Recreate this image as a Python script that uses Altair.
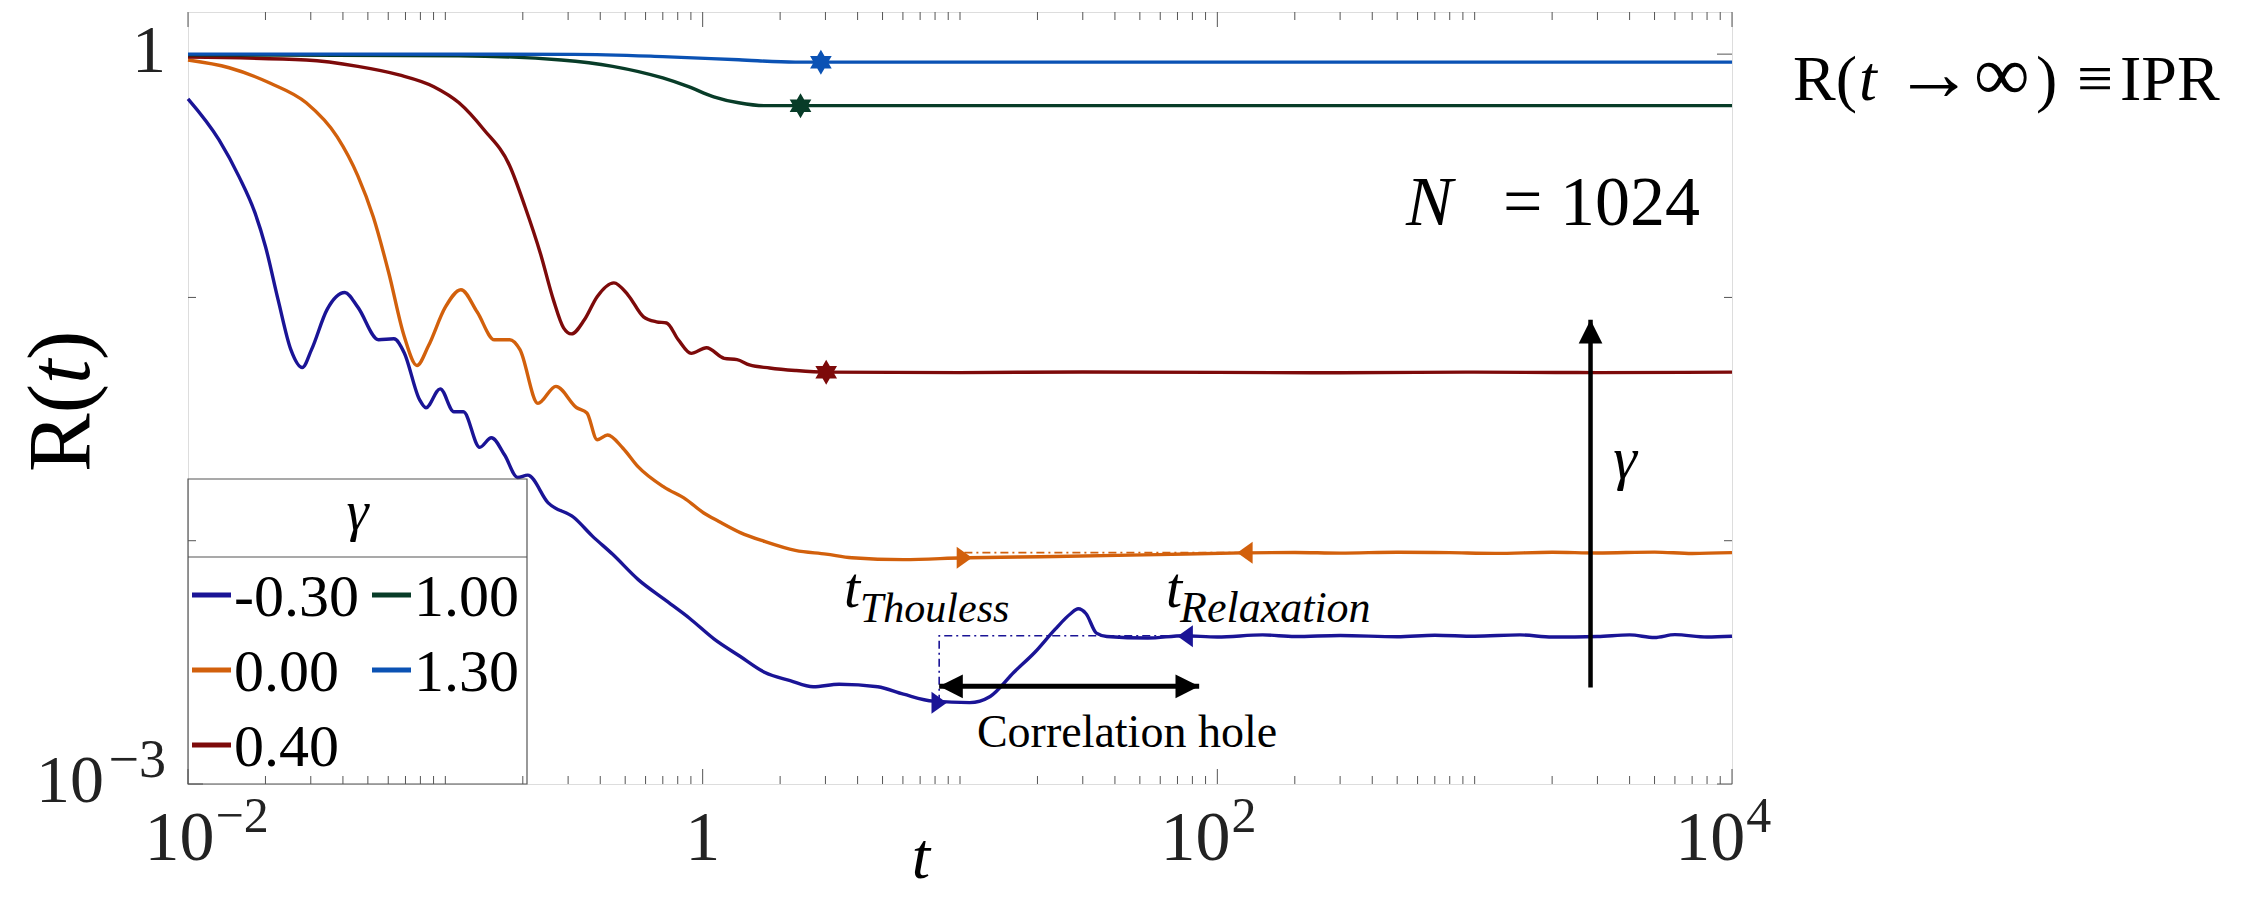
import altair as alt
import pandas as pd

# ---------------- data ----------------
gammas = ["-0.30", "0.00", "0.40", "1.00", "1.30"]
colors = ["#1a1496", "#d2600c", "#7d0a0a", "#083c28", "#0b52b4"]

t_m030 = [0.0100, 0.0132, 0.0158, 0.0182, 0.0200, 0.0224, 0.0251, 0.0278, 0.0302, 0.0347,
          0.0407, 0.0457, 0.0550, 0.0631, 0.0692, 0.0794, 0.0841, 0.0955, 0.108, 0.1175,
          0.136, 0.151, 0.170, 0.191, 0.209, 0.251, 0.316, 0.372, 0.447, 0.562,
          0.708, 0.891, 1.109, 1.396, 1.738, 2.188, 2.69, 3.39, 4.79, 6.03,
          7.89, 10.9, 13.1, 16.2, 19.5, 23.4, 26.9, 28.8, 30.9, 33.9,
          37.2, 53.7, 74.1, 100, 150, 200, 300, 500, 700, 1000,
          1500, 2000, 3000, 4000, 5000, 6000, 8000, 10000]
R_m030 = [0.655, 0.444, 0.313, 0.223, 0.162, 0.0977, 0.0610, 0.0515, 0.0610, 0.0891,
          0.1047, 0.0912, 0.0670, 0.0676, 0.0593, 0.0380, 0.0352, 0.0421, 0.0339, 0.0339,
          0.0242, 0.0265, 0.0225, 0.0182, 0.0186, 0.0143, 0.01245, 0.01047, 0.00879, 0.00692,
          0.00575, 0.00479, 0.00394, 0.00335, 0.00288, 0.00266, 0.00251, 0.00257, 0.00251, 0.00234,
          0.00219, 0.00216, 0.00229, 0.00288, 0.00347, 0.00432, 0.00501, 0.00525, 0.00501, 0.00417,
          0.00404, 0.00398, 0.00407, 0.00402, 0.00410, 0.00404, 0.00408, 0.00403, 0.00409, 0.00405,
          0.00410, 0.00402, 0.00404, 0.00410, 0.00400, 0.00411, 0.00402, 0.00405]

t_000 = [0.01, 0.01445, 0.0209, 0.0288, 0.0380, 0.0457, 0.0525, 0.0603, 0.0692, 0.0776,
         0.0859, 0.1, 0.115, 0.133, 0.155, 0.178, 0.195, 0.229, 0.269, 0.324,
         0.355, 0.389, 0.427, 0.490, 0.562, 0.708, 0.861, 1.01, 1.156, 1.40,
         1.74, 2.29, 3.02, 3.80, 6.03, 10.35, 23.4, 58.9, 126, 200,
         300, 500, 800, 1200, 2000, 3000, 5000, 7000, 10000]
R_000 = [0.946, 0.879, 0.759, 0.631, 0.457, 0.316, 0.214, 0.126, 0.0692, 0.0525,
         0.0631, 0.0912, 0.1076, 0.0871, 0.0670, 0.0670, 0.0610, 0.0367, 0.0431, 0.0352,
         0.0335, 0.0260, 0.0272, 0.0240, 0.0201, 0.0166, 0.0148, 0.0130, 0.0120, 0.0108,
         0.00993, 0.00912, 0.00881, 0.00851, 0.00836, 0.00851, 0.00861, 0.00877, 0.00891, 0.00895,
         0.00889, 0.00897, 0.00893, 0.00887, 0.00896, 0.00890, 0.00898, 0.00886, 0.00893]

t_040 = [0.01, 0.0288, 0.0457, 0.0661, 0.0902, 0.113, 0.141, 0.178, 0.204, 0.234,
         0.263, 0.288, 0.309, 0.347, 0.389, 0.452, 0.513, 0.589, 0.661, 0.724,
         0.804, 0.902, 1.035, 1.213, 1.36, 1.52, 1.82, 2.29, 3.02, 10,
         30, 100, 300, 1000, 3000, 10000]
R_040 = [0.973, 0.946, 0.891, 0.822, 0.735, 0.631, 0.490, 0.347, 0.236, 0.152,
         0.0977, 0.0750, 0.0708, 0.0809, 0.1007, 0.1148, 0.1023, 0.0832, 0.0794, 0.0785,
         0.0670, 0.0589, 0.0621, 0.0562, 0.0555, 0.0528, 0.0513, 0.0501, 0.0493, 0.0491,
         0.0494, 0.0492, 0.0490, 0.0493, 0.0491, 0.0493]

t_100 = [0.01, 0.113, 0.282, 0.447, 0.700, 0.881, 1.104, 1.38, 1.74, 2.4, 10, 100, 1000, 10000]
R_100 = [0.993, 0.984, 0.946, 0.891, 0.798, 0.735, 0.668, 0.631, 0.614, 0.614, 0.614, 0.614, 0.614, 0.614]

t_130 = [0.01, 0.316, 0.70, 1.38, 2.29, 2.88, 10, 100, 1000, 10000]
R_130 = [1.0, 0.998, 0.977, 0.948, 0.927, 0.927, 0.927, 0.927, 0.927, 0.927]

# markers
star_gamma = ["1.30", "1.00", "0.40"]
star_t = [2.88, 2.4, 3.02]
star_R = [0.927, 0.614, 0.0493]

thouless_gamma = ["-0.30", "0.00"]
thouless_t = [8.3, 10.4]
thouless_R = [0.00216, 0.00851]

relax_gamma = ["-0.30", "0.00"]
relax_t = [75, 128]
relax_R = [0.00405, 0.00893]

# guide (dash-dot) lines
guide_gamma = ["-0.30", "-0.30", "-0.30", "0.00", "0.00"]
guide_t = [8.3, 8.3, 75, 10.4, 128]
guide_R = [0.00216, 0.00407, 0.00407, 0.00893, 0.00893]

# correlation-hole double arrow, gamma arrow
hole_t = [8.3, 85]
hole_R = 0.00252
gamma_arrow_t = 2820
gamma_arrow_R = [0.00249, 0.0809]

# tick labels (base + superscript)
x_tick_values = [0.01, 1, 100, 10000]
x_tick_base = ["10", "1", "10", "10"]
x_tick_sup = ["−2", "", "2", "4"]
y_tick_values = [0.001, 1]
y_tick_base = ["10", "1"]
y_tick_sup = ["−3", ""]
y_decades = [0.001, 0.01, 0.1, 1]

# ---------------- layout ----------------
W, H = 1544, 772
FONT = "Liberation Serif, Times New Roman, Times, serif"

xs = alt.Scale(type="log", domain=[0.01, 10000], nice=False)
ys = alt.Scale(type="log", domain=[0.001, 1.49], nice=False)
cscale = alt.Scale(domain=gammas, range=colors)

X = lambda f="t": alt.X(f"{f}:Q", scale=xs, axis=None)
Y = lambda f="R": alt.Y(f"{f}:Q", scale=ys, axis=None)
C = alt.Color("gamma:N", scale=cscale, legend=None)

# ---------------- curves ----------------
frames = []
for g, ts, rs in zip(gammas, [t_m030, t_000, t_040, t_100, t_130],
                     [R_m030, R_000, R_040, R_100, R_130]):
    frames.append(pd.DataFrame({"gamma": g, "t": ts, "R": rs, "i": range(len(ts))}))
curves = pd.concat(frames, ignore_index=True)

lines = alt.Chart(curves).mark_line(strokeWidth=3.4, interpolate="monotone").encode(
    x=X(), y=Y(), color=C, detail="gamma:N", order="i:Q")

# ---------------- ticks (inward, all four sides) ----------------
majors = set(x_tick_values)
minor_x = [round(k * 10.0 ** n, 6) for n in range(-2, 4) for k in range(1, 10)]
minor_x = [v for v in minor_x if v not in majors]
df_minor = pd.DataFrame({"t": minor_x})
df_major = pd.DataFrame({"t": x_tick_values})
df_ymin = pd.DataFrame({"R": [v for v in y_decades if v not in y_tick_values]})
df_ymaj = pd.DataFrame({"R": y_tick_values})

TK = dict(color="#555555", strokeWidth=1)
ticks = [
    alt.Chart(df_minor).mark_rule(**TK).encode(x=X(), y=alt.value(H), y2=alt.value(H - 8)),
    alt.Chart(df_minor).mark_rule(**TK).encode(x=X(), y=alt.value(0), y2=alt.value(8)),
    alt.Chart(df_major).mark_rule(**TK).encode(x=X(), y=alt.value(H), y2=alt.value(H - 15)),
    alt.Chart(df_major).mark_rule(**TK).encode(x=X(), y=alt.value(0), y2=alt.value(15)),
    alt.Chart(df_ymin).mark_rule(**TK).encode(y=Y(), x=alt.value(0), x2=alt.value(8)),
    alt.Chart(df_ymin).mark_rule(**TK).encode(y=Y(), x=alt.value(W), x2=alt.value(W - 8)),
    alt.Chart(df_ymaj).mark_rule(**TK).encode(y=Y(), x=alt.value(0), x2=alt.value(15)),
    alt.Chart(df_ymaj).mark_rule(**TK).encode(y=Y(), x=alt.value(W), x2=alt.value(W - 15)),
]


# ---------------- text helper ----------------
def txt(s, x, y, size, italic=False, align="left", angle=None):
    kw = dict(font=FONT, fontSize=size, align=align, baseline="alphabetic", color="black")
    if italic:
        kw["fontStyle"] = "italic"
    if angle is not None:
        kw["angle"] = angle
    return alt.Chart(pd.DataFrame({"s": [s]})).mark_text(**kw).encode(
        x=alt.value(x), y=alt.value(y), text="s:N")


# ---------------- tick labels as text (base + superscript) ----------------
LBL = dict(font=FONT, baseline="alphabetic", color="#222222")
SUPX, SUPY = 50, 54
tick_labels = []
for v, b, s in zip(x_tick_values, x_tick_base, x_tick_sup):
    d = pd.DataFrame({"t": [v], "b": [b], "s": [s]})
    if s:
        half = 0.53 * SUPX * len(s) / 2
        tick_labels.append(alt.Chart(d).mark_text(fontSize=70, align="right", dx=half, **LBL)
                           .encode(x=X(), y=alt.value(848), text="b:N"))
        tick_labels.append(alt.Chart(d).mark_text(fontSize=SUPX, align="left", dx=half + 1, **LBL)
                           .encode(x=X(), y=alt.value(820), text="s:N"))
    else:
        tick_labels.append(alt.Chart(d).mark_text(fontSize=70, align="center", **LBL)
                           .encode(x=X(), y=alt.value(848), text="b:N"))
for v, b, s in zip(y_tick_values, y_tick_base, y_tick_sup):
    d = pd.DataFrame({"R": [v], "b": [b], "s": [s]})
    if s:
        tick_labels.append(alt.Chart(d).mark_text(fontSize=68, align="right", dy=18, **LBL)
                           .encode(x=alt.value(-84), y=Y(), text="b:N"))
        tick_labels.append(alt.Chart(d).mark_text(fontSize=SUPY, align="right", dy=-7, **LBL)
                           .encode(x=alt.value(-22), y=Y(), text="s:N"))
    else:
        tick_labels.append(alt.Chart(d).mark_text(fontSize=68, align="right", dy=18, **LBL)
                           .encode(x=alt.value(-22), y=Y(), text="b:N"))

# ---------------- guides, markers, arrows ----------------
df_guide = pd.DataFrame({"gamma": guide_gamma, "t": guide_t, "R": guide_R,
                         "i": range(len(guide_t))})
guides = alt.Chart(df_guide).mark_line(strokeDash=[8, 4, 2, 4], strokeWidth=1.6).encode(
    x=X(), y=Y(), color=C, detail="gamma:N", order="i:Q")

HEX = ("M0,-1L0.289,-0.5L0.866,-0.5L0.577,0L0.866,0.5L0.289,0.5L0,1L-0.289,0.5"
       "L-0.866,0.5L-0.577,0L-0.866,-0.5L-0.289,-0.5Z")
TRI_R = "M-0.7,-1L0.7,0L-0.7,1Z"
TRI_L = "M0.7,-1L-0.7,0L0.7,1Z"

df_star = pd.DataFrame({"gamma": star_gamma, "t": star_t, "R": star_R})
stars = alt.Chart(df_star).mark_point(filled=True, opacity=1, size=625, shape=HEX,
                                      strokeWidth=0).encode(x=X(), y=Y(), color=C)

df_tri = pd.DataFrame({"gamma": thouless_gamma + relax_gamma,
                       "t": thouless_t + relax_t, "R": thouless_R + relax_R,
                       "shape": [TRI_R] * len(thouless_t) + [TRI_L] * len(relax_t)})
tris = alt.Chart(df_tri).mark_point(filled=True, opacity=1, size=484, strokeWidth=0).encode(
    x=X(), y=Y(), color=C, shape=alt.Shape("shape:N", scale=None))

df_hole = pd.DataFrame({"t1": [hole_t[0]], "t2": [hole_t[1]], "R": [hole_R]})
hole_shaft = alt.Chart(df_hole).mark_rule(color="black", strokeWidth=5).encode(
    x=X("t1"), x2="t2:Q", y=Y())
df_gam = pd.DataFrame({"t": [gamma_arrow_t], "R1": [gamma_arrow_R[0]], "R2": [gamma_arrow_R[1]]})
gam_shaft = alt.Chart(df_gam).mark_rule(color="black", strokeWidth=4.5).encode(
    x=X(), y=Y("R1"), y2="R2:Q")

df_heads = pd.DataFrame({
    "t": [hole_t[0], hole_t[1], gamma_arrow_t],
    "R": [hole_R, hole_R, gamma_arrow_R[1]],
    "shape": ["M0,0L2,-1L2,1Z", "M0,0L-2,-1L-2,1Z", "M0,0L-1,2L1,2Z"]})
heads = alt.Chart(df_heads).mark_point(filled=True, opacity=1, size=560, color="black",
                                       strokeWidth=0).encode(
    x=X(), y=Y(), shape=alt.Shape("shape:N", scale=None))

# ---------------- legend (box with title row, 2 columns, column-major) ----------------
LX0, LX1, LY0 = 0, 339, 467
legend_layers = [
    alt.Chart(pd.DataFrame({"a": [0]})).mark_rect(fill="white", fillOpacity=0, stroke="#555555",
                                                 strokeWidth=1.2).encode(
        x=alt.value(LX0), x2=alt.value(LX1), y=alt.value(LY0), y2=alt.value(H)),
    alt.Chart(pd.DataFrame({"a": [0]})).mark_rule(color="#555555", strokeWidth=1.2).encode(
        x=alt.value(LX0), x2=alt.value(LX1), y=alt.value(LY0 + 78)),
    txt("γ", (LX0 + LX1) / 2, LY0 + 51, 56, italic=True, align="center"),
]
for i, g in enumerate(gammas):
    col, row = i // 3, i % 3
    sx = 4 + col * 180
    sy = 583 + row * 75
    legend_layers.append(
        alt.Chart(pd.DataFrame({"gamma": [g]})).mark_rule(strokeWidth=5).encode(
            x=alt.value(sx), x2=alt.value(sx + 39), y=alt.value(sy), color=C))
    legend_layers.append(txt(g, sx + 42, sy + 21, 60))

texts = [
    txt("R(", -99, 460, 88, angle=270),
    txt("t", -99, 372, 88, italic=True, angle=270),
    txt(")", -99, 348, 88, angle=270),
    txt("t", 733, 866, 66, italic=True, align="center"),
    txt("t", 656, 595, 58, italic=True),
    txt("Thouless", 672, 610, 42, italic=True),
    txt("t", 978, 595, 58, italic=True),
    txt("Relaxation", 992, 610, 44, italic=True),
    txt("Correlation hole", 939, 735, 46, align="center"),
    txt("N", 1218, 213, 70, italic=True),
    txt("= 1024", 1512, 213, 70, align="right"),
    txt("R(", 1605, 88, 64),
    txt("t", 1671, 88, 64, italic=True),
    txt("→", 1706, 88, 80),
    txt("∞", 1786, 88, 78),
    txt(")", 1848, 88, 64),
    txt("≡", 1889, 88, 64),
    txt("IPR", 1932, 88, 64),
    txt("γ", 1437, 466, 60, italic=True, align="center"),
]

chart = alt.layer(*ticks, lines, guides, stars, tris, hole_shaft, gam_shaft, heads,
                  *legend_layers, *tick_labels, *texts).properties(
    width=W, height=H,
    autosize=alt.AutoSizeParams(type="none"),
    padding={"left": 180, "top": 4, "right": 514, "bottom": 109},
).configure_view(stroke="#444444", strokeWidth=1.3).configure(background="white")

chart.save("out.html", embed_options={"renderer": "svg", "actions": False})
